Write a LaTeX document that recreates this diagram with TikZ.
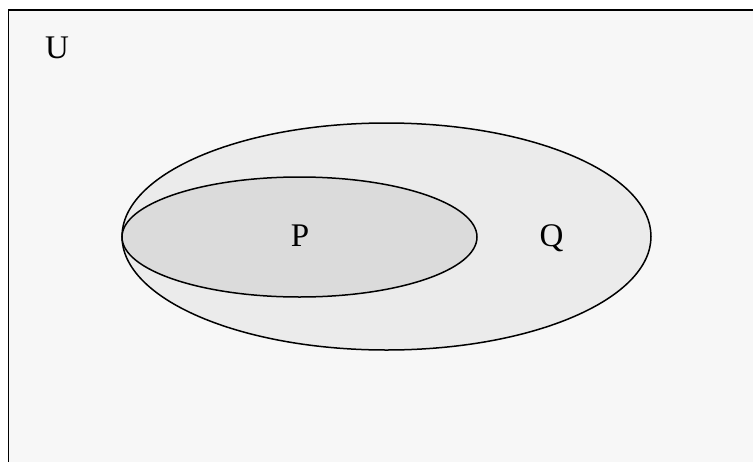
\documentclass[tikz,border=0pt]{standalone}
\usepackage{fontspec}
\setmainfont{Liberation Serif}
\usetikzlibrary{shapes.geometric}

\begin{document}
\begin{tikzpicture}[
    x=1pt, y=-1pt,
    set/.style={ellipse, draw=black, line width=1.5pt, inner sep=0pt},
    lbl/.style={font=\fontsize{33}{38}\selectfont, inner sep=0pt}
  ]
  \useasboundingbox (0,0) rectangle (753,461);
  \clip (0,0) rectangle (753,461);

  % Universe
  \draw[line width=1.6pt, fill=black!3] (8.5,10) rectangle (780,490);
  \node[lbl] (u) at (57,48) {U};

  % Sets
  \node[set, fill=black!8, minimum width=529pt, minimum height=227pt] (q) at (386.5,236.5) {};
  \node[set, fill=black!14, minimum width=355pt, minimum height=120pt] (p) at (299.5,237) {};

  \node[lbl] (plbl) at (300,236) {P};
  \node[lbl] (qlbl) at (551.5,238) {Q};
\end{tikzpicture}
\end{document}
